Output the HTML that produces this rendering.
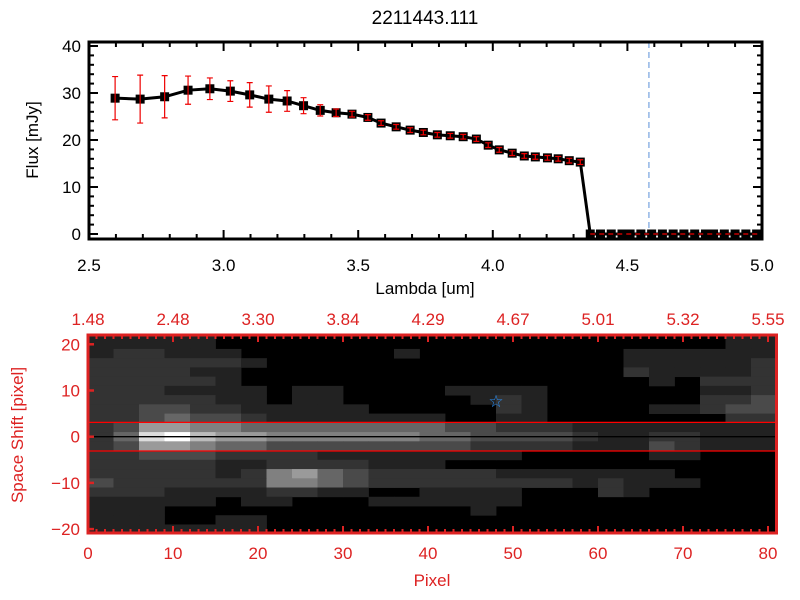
<!DOCTYPE html>
<html><head><meta charset="utf-8"><style>
html,body{margin:0;padding:0;background:#fff;}
svg{display:block;font-family:"Liberation Sans",sans-serif;}
</style></head><body>
<svg id="c" width="800" height="600" viewBox="0 0 800 600">
<rect x="0" y="0" width="800" height="600" fill="#fff"/>
<text x="425" y="24" font-size="19" text-anchor="middle" fill="#000">2211443.111</text>
<g id="top"></g>
<g id="bot"></g>
</svg>
<script>
// ---- spectrum data ----
const lambdas = [2.597,2.690,2.781,2.868,2.949,3.025,3.097,3.168,3.236,3.297,3.359,3.418,3.477,3.536,3.585,3.641,3.693,3.742,3.794,3.842,3.890,3.939,3.983,4.024,4.072,4.117,4.158,4.203,4.243,4.284,4.325,
  4.362,4.40,4.44,4.48,4.51,4.55,4.59,4.63,4.67,4.71,4.75,4.79,4.82,4.86,4.90,4.94,4.98];
const fluxes = [28.9,28.7,29.2,30.6,30.9,30.4,29.6,28.7,28.3,27.3,26.3,25.8,25.5,24.8,23.6,22.8,22.1,21.6,21.1,20.9,20.7,20.2,18.9,17.9,17.2,16.6,16.4,16.2,16.0,15.6,15.3,
  0,0,0,0,0,0,0,0,0,0,0,0,0,0,0,0,0];
const errors = [4.6,5.1,4.5,3.0,2.3,2.2,2.6,2.8,2.2,1.7,1.2,0.8,0.6,0.6,0.5,0.5,0.5,0.5,0.5,0.5,0.5,0.5,0.5,0.5,0.5,0.5,0.5,0.5,0.5,0.5,0.5,
  0,0,0,0,0,0,0,0,0,0,0,0,0,0,0,0,0];
const xTickLabels = ["2.5","3.0","3.5","4.0","4.5","5.0"];
const xTickValues = [2.5,3.0,3.5,4.0,4.5,5.0];
const yTickValues = [0,10,20,30,40];
const markerLambda = [4.58];
// ---- image data (levels 0-9, 3-pixel column groups, 2-unit rows from +22 to -22) ----
const rowCenters = [22,20,18,16,14,12,10,8,6,4,2,0,-2,-4,-6,-8,-10,-12,-14,-16,-18,-20,-22];
const imageRows = [
"111110000000000000000000011",
"111110000000000000000000011",
"122111000000100000000111111",
"222222100000000000000111112",
"222211000000000000000211112",
"222221000000000000000010222",
"222111101100001111000000112",
"222221101100000121000000223",
"223322111110000021000011233",
"223433211111110011000000022",
"236655444444443322211111111",
"248976655555544333321122111",
"236654433333333222211132111",
"223332222111111110000011000",
"222221122221110000000000000",
"222221256432222211111110000",
"322222255432222222212111000",
"222111122110011110002100000",
"111110110001111110000000000",
"111000000000000100000000000",
"111001100000000000000000000",
"111111100000000000000000000",
"111111100000000000000000000"];
const pixTickValues = [0,10,20,30,40,50,60,70,80];
const lamTopLabels = ["1.48","2.48","3.30","3.84","4.29","4.67","5.01","5.32","5.55"];
const shiftTicks = [-20,-10,0,10,20];
const apertureHalf = [3.1];
const starPos = [48, 7.7];

const NS="http://www.w3.org/2000/svg";
function mk(parent,tag,attrs,txt){const e=document.createElementNS(NS,tag);for(const k in attrs)e.setAttribute(k,attrs[k]);if(txt!==undefined)e.textContent=txt;parent.appendChild(e);return e;}

// ---- top panel ----
const T=document.getElementById('top');
const X0=89,X1=762,Y0=42,Y1=239;
const xS=l=>X0+(l-2.5)*269.2;
const yS=v=>234-v*4.7;
for(let k=0;k<=25;k++){const l=2.5+k*0.1;const x=xS(l);const maj=k%5===0;const L=maj?9:5;
  const t1=mk(T,'line',{x1:x,y1:Y1,x2:x,y2:Y1-L,stroke:'#000','stroke-width':2});
  
  
  const t2=mk(T,'line',{x1:x,y1:Y0,x2:x,y2:Y0+L,stroke:'#000','stroke-width':2});
  
  }
for(let v=0;v<=40;v+=2){const y=yS(v);const maj=v%10===0;const L=maj?9:5;
  const t1=mk(T,'line',{x1:X0,y1:y,x2:X0+L,y2:y,stroke:'#000','stroke-width':2});
  
  
  const t2=mk(T,'line',{x1:X1,y1:y,x2:X1-L,y2:y,stroke:'#000','stroke-width':2});
  
  }
xTickValues.forEach((v,i)=>{const e=mk(T,'text',{x:xS(v),y:271,'font-size':17,'text-anchor':'middle',fill:'#000'},xTickLabels[i]);
  
  });
yTickValues.forEach(v=>{const e=mk(T,'text',{x:81,y:yS(v)+6,'font-size':17,'text-anchor':'end',fill:'#000'},String(v));
  
  });
let e=mk(T,'text',{x:425,y:294,'font-size':17,'text-anchor':'middle',fill:'#000'},'Lambda [um]');


e=mk(T,'text',{x:0,y:0,'font-size':17,'text-anchor':'middle',fill:'#000',transform:'translate(38,140) rotate(-90)'},'Flux [mJy]');


markerLambda.forEach(l=>{const m=mk(T,'line',{x1:xS(l),y1:Y0,x2:xS(l),y2:Y1,stroke:'#5a8fd8','stroke-width':1,'stroke-dasharray':'6,4'});
  
  });
const pts=lambdas.map((l,i)=>xS(l)+','+yS(fluxes[i])).join(' ');
e=mk(T,'polyline',{points:pts,fill:'none',stroke:'#000','stroke-width':3});


lambdas.forEach((l,i)=>{const x=xS(l),y=yS(fluxes[i]);
  const s=mk(T,'rect',{x:x-4.5,y:y-4.5,width:9,height:9,fill:'#000'});
  
  
  if(errors[i]>0){const h=errors[i]*4.7;
    const g=mk(T,'path',{d:`M${x},${y-h}V${y+h}M${x-3},${y-h}H${x+3}M${x-3},${y+h}H${x+3}`,stroke:'#e00',fill:'none','stroke-width':1.2});
    
    }});
e=mk(T,'line',{x1:xS(4.362),y1:yS(0),x2:X1,y2:yS(0),stroke:'#e00','stroke-width':1.2,'stroke-dasharray':'5,4'});


e=mk(T,'rect',{x:X0,y:Y0,width:X1-X0,height:Y1-Y0,fill:'none',stroke:'#000','stroke-width':3});



// ---- bottom panel ----
const B=document.getElementById('bot');
const BX0=88,BX1=776.5,BY0=335,BY1=533;
const pX=p=>BX0+p*8.5;
const pY=u=>436.7-u*4.62;
const grays=['#000','#222','#333','#4a4a4a','#666','#808080','#9a9a9a','#bbb','#ddd','#fff'];
mk(B,'defs',{}).innerHTML='<clipPath id="cp"><rect x="88" y="335" width="688.5" height="198"/></clipPath>';
const IG=mk(B,'g',{'clip-path':'url(#cp)'});


mk(IG,'rect',{x:BX0,y:BY0,width:BX1-BX0,height:BY1-BY0,fill:'#000'});
rowCenters.forEach((c,r)=>{const row=imageRows[r];for(let g=0;g<row.length;g++){const lv=+row[g];if(!lv)continue;
  const cell=mk(IG,'rect',{x:pX(g*3),y:pY(c+1),width:8.5*3+0.4,height:4.62*2+0.4,fill:grays[lv]});
  
  }});
apertureHalf.forEach(a=>{[a,-a].forEach(v=>{const l=mk(B,'line',{x1:BX0,y1:pY(v),x2:BX1,y2:pY(v),stroke:'#f00','stroke-width':1.3});
  
  });});
e=mk(B,'line',{x1:BX0,y1:pY(0),x2:BX1,y2:pY(0),stroke:'#000','stroke-width':1.3});


e=mk(B,'text',{x:pX(starPos[0]),y:pY(starPos[1])+6,'font-size':17,'text-anchor':'middle',fill:'#2a8cf0'},'☆');


for(let p=0;p<=81;p++){const x=pX(p);const maj=p%10===0;const L=maj?7:4;
  const a=mk(B,'line',{x1:x,y1:BY1,x2:x,y2:BY1-L,stroke:'#d22','stroke-width':2});
  
  
  const b=mk(B,'line',{x1:x,y1:BY0,x2:x,y2:BY0+L,stroke:'#d22','stroke-width':2});
  
  }
shiftTicks.forEach(v=>{const y=pY(v);
  const a=mk(B,'line',{x1:BX0,y1:y,x2:BX0+6,y2:y,stroke:'#d22','stroke-width':2.5});
  
  
  const t=mk(B,'text',{x:80,y:y+6,'font-size':17,'text-anchor':'end',fill:'#d22'},v<0?'\u2212'+(-v):String(v));
  
  });
pixTickValues.forEach((p,i)=>{
  const t=mk(B,'text',{x:pX(p),y:559,'font-size':17,'text-anchor':'middle',fill:'#d22'},String(p));
  
  
  const u=mk(B,'text',{x:pX(p),y:325,'font-size':17,'text-anchor':'middle',fill:'#d22'},lamTopLabels[i]);
  
  });
e=mk(B,'text',{x:432,y:586,'font-size':17,'text-anchor':'middle',fill:'#d22'},'Pixel');


e=mk(B,'text',{x:0,y:0,'font-size':17,'text-anchor':'middle',fill:'#d22',transform:'translate(23,435) rotate(-90)'},'Space Shift [pixel]');


e=mk(B,'rect',{x:BX0,y:BY0,width:BX1-BX0,height:BY1-BY0,fill:'none',stroke:'#d22','stroke-width':3});


</script>
</body></html>
